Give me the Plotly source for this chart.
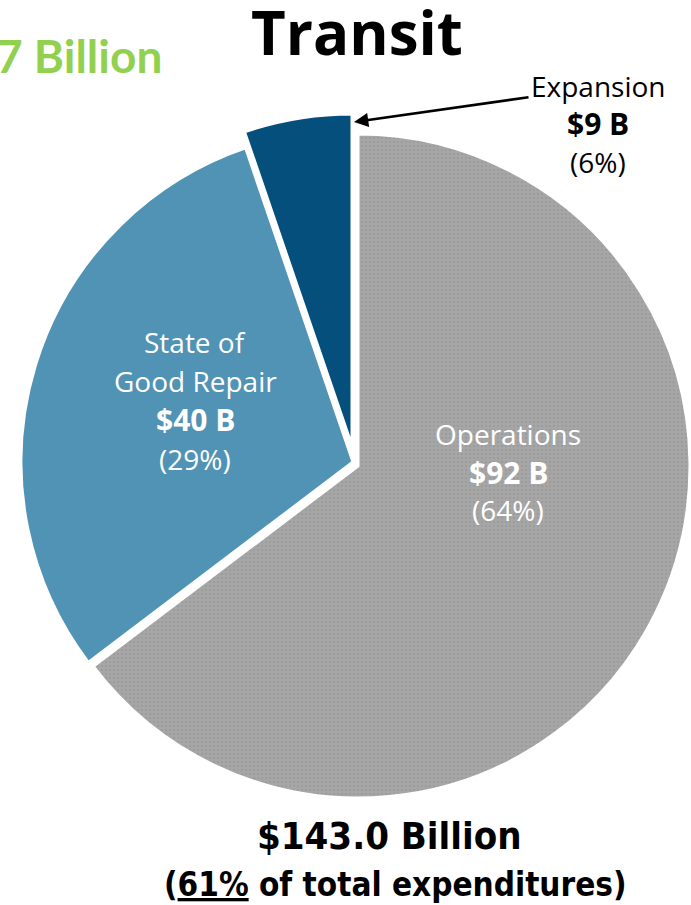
import plotly.graph_objects as go

# ---- data ----
categories = ["Operations", "State of Good Repair", "Expansion"]
label_lines = [["Operations"], ["State of", "Good Repair"], ["Expansion"]]
slice_values = [92.5, 43, 7.5]             # slice sizes as drawn ($B)
amount_labels = ["$92 B", "$40 B", "$9 B"]  # amounts printed on the chart
pct_labels = ["(64%)", "(29%)", "(6%)"]     # percents printed on the chart
colors = ["#a6a6a6", "#5193b5", "#044f7b"]
title_text = "Transit"
total_text = "$143.0 Billion"
share_text = "61%"
left_text = "7 Billion"

W, H = 691, 905

def px(x):
    return x / W

def py(y):
    return 1 - y / H

fig = go.Figure()

# each slice drawn in its own trace (same data) to imitate exploded slices
centers = [(358, 466), (353, 462), (352, 446)]
R = 332
n = len(slice_values)
for i, (cx, cy) in enumerate(centers):
    cols = [colors[j] if j == i else "rgba(0,0,0,0)" for j in range(n)]
    lw = [3 if j == i else 0 for j in range(n)]
    pattern = dict(
        shape=["." if (j == i and j == 0) else "" for j in range(n)],
        fgcolor="#999999",
        bgcolor=cols,
        size=4,
        solidity=0.2,
    )
    fig.add_trace(go.Pie(
        labels=categories,
        values=slice_values,
        sort=False,
        direction="clockwise",
        rotation=0,
        marker=dict(colors=cols, line=dict(color="white", width=lw), pattern=pattern),
        textinfo="none",
        hoverinfo="skip",
        showlegend=False,
        domain=dict(x=[(cx - R) / W, (cx + R) / W],
                    y=[1 - (cy + R) / H, 1 - (cy - R) / H]),
    ))

label_font = "Open Sans, Roboto, sans-serif"
ann = []

def add_lines(lines, x, ys, color):
    for (txt, bold), y in zip(lines, ys):
        ann.append(dict(
            x=px(x), y=py(y), xref="paper", yref="paper",
            text=f"<b>{txt}</b>" if bold else txt,
            showarrow=False, xanchor="center", yanchor="middle",
            font=dict(family=label_font, size=30 if bold else 28, color=color),
        ))

def slice_lines(k):
    return [(l, False) for l in label_lines[k]] + [(amount_labels[k], True), (pct_labels[k], False)]

add_lines(slice_lines(0), 508, [434, 472, 510], "white")
add_lines(slice_lines(1), 195, [342, 381, 420, 459], "white")
add_lines(slice_lines(2), 598, [86, 124, 162], "black")

# arrow to Expansion slice
ann.append(dict(
    x=px(354), y=py(122), xref="paper", yref="paper",
    ax=530 - 354, ay=97 - 122, axref="pixel", ayref="pixel",
    text="", showarrow=True, arrowhead=2, arrowsize=1.1, arrowwidth=2.6,
    arrowcolor="black",
))

# title
ann.append(dict(
    x=px(357), y=py(32), xref="paper", yref="paper",
    text=f"<b>{title_text}</b>", showarrow=False, xanchor="center", yanchor="middle",
    font=dict(family="Open Sans, Lato, sans-serif", size=60, color="black"),
))
# partial green text (cut by the left edge as in the source)
ann.append(dict(
    x=-0.008, y=py(56), xref="paper", yref="paper",
    text=f"<b>{left_text}</b>", showarrow=False, xanchor="left", yanchor="middle",
    font=dict(family="Lato, Open Sans, sans-serif", size=46, color="#92d050"),
))
# totals
cond = "Liberation Sans Narrow, DejaVu Sans Condensed, Liberation Sans, sans-serif"
ann.append(dict(
    x=px(389), y=py(836), xref="paper", yref="paper",
    text=f"<b>{total_text}</b>", showarrow=False, xanchor="center", yanchor="middle",
    font=dict(family=cond, size=38, color="black"),
))
ann.append(dict(
    x=px(395), y=py(884), xref="paper", yref="paper",
    text=f"<b>(<u>{share_text}</u> of total expenditures)</b>", showarrow=False,
    xanchor="center", yanchor="middle",
    font=dict(family=cond, size=33, color="black"),
))

fig.update_layout(
    width=W, height=H,
    margin=dict(l=0, r=0, t=0, b=0),
    paper_bgcolor="white", plot_bgcolor="white",
    annotations=ann,
)

fig.write_html("out.html")
